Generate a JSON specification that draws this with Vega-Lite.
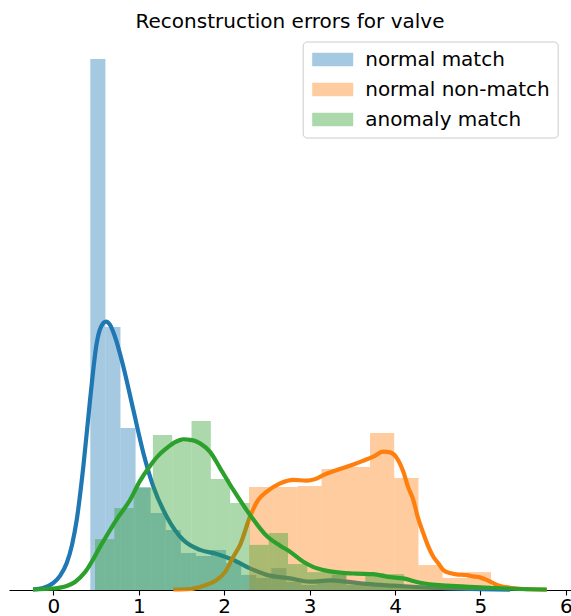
{
  "$schema": "https://vega.github.io/schema/vega-lite/v6.json",
  "autosize": {"type": "none"},
  "width": 562,
  "height": 557,
  "padding": {"left": 9, "top": 33, "right": 0, "bottom": 26},
  "title": {"text": "Reconstruction errors for valve", "fontSize": 20, "font": "DejaVu Sans", "fontWeight": "normal", "color": "#000000", "anchor": "middle", "frame": "group", "baseline": "bottom", "offset": 2, "dy": 21},
  "config": {
    "view": {"stroke": null},
    "font": "DejaVu Sans",
    "axis": {"grid": false},
    "legend": {
      "title": null,
      "orient": "none",
      "legendX": 293.7,
      "legendY": 8.5,
      "symbolType": "M-3,-1H3V1H-3Z",
      "symbolSize": 187,
      "symbolOpacity": 0.4,
      "symbolStrokeWidth": 0,
      "symbolOffset": 12,
      "labelOffset": 22.5,
      "labelFontSize": 20,
      "labelFont": "DejaVu Sans",
      "labelColor": "#000000",
      "labelLimit": 400,
      "padding": 8,
      "rowPadding": 10,
      "fillColor": "rgba(255,255,255,0.8)",
      "strokeColor": "#cccccc",
      "cornerRadius": 4
    }
  },
  "datasets": {
    "hist": [
      {"series": "normal match", "x0": 0.432, "x1": 0.609, "density": 2.107},
      {"series": "normal match", "x0": 0.609, "x1": 0.785, "density": 1.044},
      {"series": "normal match", "x0": 0.785, "x1": 0.962, "density": 0.643},
      {"series": "normal match", "x0": 0.962, "x1": 1.138, "density": 0.409},
      {"series": "normal match", "x0": 1.138, "x1": 1.315, "density": 0.306},
      {"series": "normal match", "x0": 1.315, "x1": 1.492, "density": 0.238},
      {"series": "normal match", "x0": 1.492, "x1": 1.668, "density": 0.147},
      {"series": "normal match", "x0": 1.668, "x1": 1.845, "density": 0.135},
      {"series": "normal match", "x0": 1.845, "x1": 2.021, "density": 0.159},
      {"series": "normal match", "x0": 2.021, "x1": 2.198, "density": 0.107},
      {"series": "normal match", "x0": 2.198, "x1": 2.375, "density": 0.060},
      {"series": "normal match", "x0": 2.375, "x1": 2.551, "density": 0.048},
      {"series": "normal match", "x0": 2.551, "x1": 2.728, "density": 0.087},
      {"series": "normal match", "x0": 2.728, "x1": 2.904, "density": 0.032},
      {"series": "normal match", "x0": 2.904, "x1": 3.081, "density": 0.020},
      {"series": "normal match", "x0": 3.081, "x1": 3.258, "density": 0.032},
      {"series": "normal match", "x0": 3.258, "x1": 3.434, "density": 0.060},
      {"series": "normal match", "x0": 3.434, "x1": 3.611, "density": 0.020},
      {"series": "normal match", "x0": 3.611, "x1": 3.787, "density": 0.024},
      {"series": "normal match", "x0": 3.787, "x1": 3.964, "density": 0.016},
      {"series": "normal match", "x0": 3.964, "x1": 4.141, "density": 0.020},
      {"series": "normal match", "x0": 4.141, "x1": 4.317, "density": 0.008},
      {"series": "normal match", "x0": 4.317, "x1": 4.494, "density": 0.012},
      {"series": "normal match", "x0": 4.494, "x1": 4.670, "density": 0.0},
      {"series": "normal match", "x0": 4.670, "x1": 4.847, "density": 0.008},
      {"series": "normal match", "x0": 4.847, "x1": 5.024, "density": 0.004},
      {"series": "normal non-match", "x0": 2.290, "x1": 2.573, "density": 0.409},
      {"series": "normal non-match", "x0": 2.573, "x1": 2.857, "density": 0.409},
      {"series": "normal non-match", "x0": 2.857, "x1": 3.140, "density": 0.413},
      {"series": "normal non-match", "x0": 3.140, "x1": 3.424, "density": 0.480},
      {"series": "normal non-match", "x0": 3.424, "x1": 3.707, "density": 0.488},
      {"series": "normal non-match", "x0": 3.707, "x1": 3.990, "density": 0.623},
      {"series": "normal non-match", "x0": 3.990, "x1": 4.274, "density": 0.444},
      {"series": "normal non-match", "x0": 4.274, "x1": 4.557, "density": 0.099},
      {"series": "normal non-match", "x0": 4.557, "x1": 4.841, "density": 0.048},
      {"series": "normal non-match", "x0": 4.841, "x1": 5.124, "density": 0.071},
      {"series": "anomaly match", "x0": 0.487, "x1": 0.713, "density": 0.202},
      {"series": "anomaly match", "x0": 0.713, "x1": 0.939, "density": 0.325},
      {"series": "anomaly match", "x0": 0.939, "x1": 1.165, "density": 0.405},
      {"series": "anomaly match", "x0": 1.165, "x1": 1.391, "density": 0.615},
      {"series": "anomaly match", "x0": 1.391, "x1": 1.617, "density": 0.587},
      {"series": "anomaly match", "x0": 1.617, "x1": 1.843, "density": 0.671},
      {"series": "anomaly match", "x0": 1.843, "x1": 2.069, "density": 0.440},
      {"series": "anomaly match", "x0": 2.069, "x1": 2.295, "density": 0.345},
      {"series": "anomaly match", "x0": 2.295, "x1": 2.521, "density": 0.179},
      {"series": "anomaly match", "x0": 2.521, "x1": 2.747, "density": 0.226},
      {"series": "anomaly match", "x0": 2.747, "x1": 2.973, "density": 0.103},
      {"series": "anomaly match", "x0": 2.973, "x1": 3.199, "density": 0.071},
      {"series": "anomaly match", "x0": 3.199, "x1": 3.425, "density": 0.071},
      {"series": "anomaly match", "x0": 3.425, "x1": 3.651, "density": 0.032},
      {"series": "anomaly match", "x0": 3.651, "x1": 3.877, "density": 0.067},
      {"series": "anomaly match", "x0": 3.877, "x1": 4.103, "density": 0.063},
      {"series": "anomaly match", "x0": 4.103, "x1": 4.329, "density": 0.020},
      {"series": "anomaly match", "x0": 4.329, "x1": 4.555, "density": 0.016},
      {"series": "anomaly match", "x0": 4.555, "x1": 4.781, "density": 0.012},
      {"series": "anomaly match", "x0": 4.781, "x1": 5.007, "density": 0.008},
      {"series": "anomaly match", "x0": 5.007, "x1": 5.233, "density": 0.004},
      {"series": "anomaly match", "x0": 5.233, "x1": 5.459, "density": 0.004}
    ],
    "kde": [
      {"series": "normal match", "x": -0.239, "y": 0.002},
      {"series": "normal match", "x": -0.122, "y": 0.008},
      {"series": "normal match", "x": 0.0, "y": 0.028},
      {"series": "normal match", "x": 0.077, "y": 0.056},
      {"series": "normal match", "x": 0.156, "y": 0.107},
      {"series": "normal match", "x": 0.218, "y": 0.179},
      {"series": "normal match", "x": 0.273, "y": 0.278},
      {"series": "normal match", "x": 0.350, "y": 0.489},
      {"series": "normal match", "x": 0.429, "y": 0.754},
      {"series": "normal match", "x": 0.507, "y": 0.980},
      {"series": "normal match", "x": 0.557, "y": 1.044},
      {"series": "normal match", "x": 0.616, "y": 1.065},
      {"series": "normal match", "x": 0.663, "y": 1.052},
      {"series": "normal match", "x": 0.721, "y": 1.005},
      {"series": "normal match", "x": 0.819, "y": 0.886},
      {"series": "normal match", "x": 0.936, "y": 0.714},
      {"series": "normal match", "x": 1.053, "y": 0.544},
      {"series": "normal match", "x": 1.170, "y": 0.410},
      {"series": "normal match", "x": 1.327, "y": 0.291},
      {"series": "normal match", "x": 1.521, "y": 0.198},
      {"series": "normal match", "x": 1.717, "y": 0.159},
      {"series": "normal match", "x": 1.912, "y": 0.143},
      {"series": "normal match", "x": 2.107, "y": 0.119},
      {"series": "normal match", "x": 2.302, "y": 0.086},
      {"series": "normal match", "x": 2.498, "y": 0.060},
      {"series": "normal match", "x": 2.770, "y": 0.046},
      {"series": "normal match", "x": 3.005, "y": 0.033},
      {"series": "normal match", "x": 3.239, "y": 0.038},
      {"series": "normal match", "x": 3.434, "y": 0.033},
      {"series": "normal match", "x": 3.669, "y": 0.024},
      {"series": "normal match", "x": 3.977, "y": 0.017},
      {"series": "normal match", "x": 4.293, "y": 0.011},
      {"series": "normal match", "x": 4.644, "y": 0.006},
      {"series": "normal match", "x": 4.995, "y": 0.003},
      {"series": "normal match", "x": 5.347, "y": 0.001},
      {"series": "normal non-match", "x": 1.404, "y": 0.002},
      {"series": "normal non-match", "x": 1.600, "y": 0.004},
      {"series": "normal non-match", "x": 1.717, "y": 0.012},
      {"series": "normal non-match", "x": 1.834, "y": 0.026},
      {"series": "normal non-match", "x": 1.912, "y": 0.040},
      {"series": "normal non-match", "x": 2.009, "y": 0.071},
      {"series": "normal non-match", "x": 2.107, "y": 0.132},
      {"series": "normal non-match", "x": 2.186, "y": 0.179},
      {"series": "normal non-match", "x": 2.302, "y": 0.291},
      {"series": "normal non-match", "x": 2.396, "y": 0.357},
      {"series": "normal non-match", "x": 2.498, "y": 0.390},
      {"series": "normal non-match", "x": 2.654, "y": 0.423},
      {"series": "normal non-match", "x": 2.809, "y": 0.437},
      {"series": "normal non-match", "x": 2.966, "y": 0.434},
      {"series": "normal non-match", "x": 3.063, "y": 0.440},
      {"series": "normal non-match", "x": 3.160, "y": 0.456},
      {"series": "normal non-match", "x": 3.317, "y": 0.476},
      {"series": "normal non-match", "x": 3.512, "y": 0.498},
      {"series": "normal non-match", "x": 3.649, "y": 0.516},
      {"series": "normal non-match", "x": 3.746, "y": 0.529},
      {"series": "normal non-match", "x": 3.863, "y": 0.549},
      {"series": "normal non-match", "x": 3.941, "y": 0.546},
      {"series": "normal non-match", "x": 4.012, "y": 0.528},
      {"series": "normal non-match", "x": 4.097, "y": 0.469},
      {"series": "normal non-match", "x": 4.152, "y": 0.409},
      {"series": "normal non-match", "x": 4.214, "y": 0.357},
      {"series": "normal non-match", "x": 4.269, "y": 0.286},
      {"series": "normal non-match", "x": 4.331, "y": 0.225},
      {"series": "normal non-match", "x": 4.386, "y": 0.175},
      {"series": "normal non-match", "x": 4.448, "y": 0.132},
      {"series": "normal non-match", "x": 4.504, "y": 0.107},
      {"series": "normal non-match", "x": 4.566, "y": 0.079},
      {"series": "normal non-match", "x": 4.644, "y": 0.067},
      {"series": "normal non-match", "x": 4.722, "y": 0.062},
      {"series": "normal non-match", "x": 4.820, "y": 0.060},
      {"series": "normal non-match", "x": 4.917, "y": 0.054},
      {"series": "normal non-match", "x": 4.995, "y": 0.050},
      {"series": "normal non-match", "x": 5.073, "y": 0.040},
      {"series": "normal non-match", "x": 5.151, "y": 0.027},
      {"series": "normal non-match", "x": 5.229, "y": 0.016},
      {"series": "normal non-match", "x": 5.347, "y": 0.009},
      {"series": "normal non-match", "x": 5.464, "y": 0.005},
      {"series": "normal non-match", "x": 5.581, "y": 0.003},
      {"series": "normal non-match", "x": 5.776, "y": 0.001},
      {"series": "anomaly match", "x": -0.239, "y": 0.002},
      {"series": "anomaly match", "x": 0.0, "y": 0.006},
      {"series": "anomaly match", "x": 0.156, "y": 0.016},
      {"series": "anomaly match", "x": 0.253, "y": 0.032},
      {"series": "anomaly match", "x": 0.370, "y": 0.071},
      {"series": "anomaly match", "x": 0.566, "y": 0.183},
      {"series": "anomaly match", "x": 0.760, "y": 0.290},
      {"series": "anomaly match", "x": 0.897, "y": 0.357},
      {"series": "anomaly match", "x": 1.014, "y": 0.433},
      {"series": "anomaly match", "x": 1.131, "y": 0.492},
      {"series": "anomaly match", "x": 1.225, "y": 0.532},
      {"series": "anomaly match", "x": 1.327, "y": 0.563},
      {"series": "anomaly match", "x": 1.424, "y": 0.587},
      {"series": "anomaly match", "x": 1.521, "y": 0.598},
      {"series": "anomaly match", "x": 1.623, "y": 0.595},
      {"series": "anomaly match", "x": 1.717, "y": 0.582},
      {"series": "anomaly match", "x": 1.834, "y": 0.548},
      {"series": "anomaly match", "x": 1.951, "y": 0.484},
      {"series": "anomaly match", "x": 2.107, "y": 0.397},
      {"series": "anomaly match", "x": 2.302, "y": 0.298},
      {"series": "anomaly match", "x": 2.498, "y": 0.214},
      {"series": "anomaly match", "x": 2.654, "y": 0.176},
      {"series": "anomaly match", "x": 2.770, "y": 0.152},
      {"series": "anomaly match", "x": 2.926, "y": 0.112},
      {"series": "anomaly match", "x": 3.040, "y": 0.092},
      {"series": "anomaly match", "x": 3.192, "y": 0.077},
      {"series": "anomaly match", "x": 3.356, "y": 0.069},
      {"series": "anomaly match", "x": 3.543, "y": 0.065},
      {"series": "anomaly match", "x": 3.742, "y": 0.063},
      {"series": "anomaly match", "x": 3.918, "y": 0.052},
      {"series": "anomaly match", "x": 4.094, "y": 0.046},
      {"series": "anomaly match", "x": 4.293, "y": 0.029},
      {"series": "anomaly match", "x": 4.605, "y": 0.017},
      {"series": "anomaly match", "x": 4.995, "y": 0.011},
      {"series": "anomaly match", "x": 5.382, "y": 0.005},
      {"series": "anomaly match", "x": 5.776, "y": 0.002}
    ]
  },
  "layer": [
    {
      "data": {"name": "hist"},
      "transform": [{"filter": "datum.series === 'normal match'"}],
      "mark": {"type": "bar", "opacity": 0.4, "strokeWidth": 0},
      "encoding": {
        "x": {"field": "x0", "type": "quantitative", "scale": {"domain": [-0.52, 6.06], "nice": false, "zero": false},
              "axis": {"values": [0, 1, 2, 3, 4, 5, 6], "format": "d", "title": null, "domainColor": "#000000", "domainWidth": 1.1, "tickColor": "#000000", "tickWidth": 1.1, "tickSize": 5, "labelFontSize": 20, "labelFont": "DejaVu Sans", "labelColor": "#000000", "labelPadding": 1, "labelFlush": false, "labelBound": false, "labelOverlap": false}},
        "x2": {"field": "x1"},
        "y": {"field": "density", "type": "quantitative", "scale": {"domain": [0, 2.2103], "nice": false}, "axis": null},
        "y2": {"datum": 0},
        "fill": {"field": "series", "type": "nominal",
                 "scale": {"domain": ["normal match", "normal non-match", "anomaly match"], "range": ["#1f77b4", "#ff7f0e", "#2ca02c"]},
                 "legend": {}}
      }
    },
    {
      "data": {"name": "kde"},
      "transform": [{"filter": "datum.series === 'normal match'"}],
      "mark": {"type": "line", "strokeWidth": 4.2, "interpolate": "monotone"},
      "encoding": {
        "x": {"field": "x", "type": "quantitative"},
        "y": {"field": "y", "type": "quantitative"},
        "stroke": {"field": "series", "type": "nominal",
                   "scale": {"domain": ["normal match", "normal non-match", "anomaly match"], "range": ["#1f77b4", "#ff7f0e", "#2ca02c"]},
                   "legend": null}
      }
    },
    {
      "data": {"name": "hist"},
      "transform": [{"filter": "datum.series === 'normal non-match'"}],
      "mark": {"type": "bar", "opacity": 0.4, "strokeWidth": 0},
      "encoding": {
        "x": {"field": "x0", "type": "quantitative"},
        "x2": {"field": "x1"},
        "y": {"field": "density", "type": "quantitative"},
        "y2": {"datum": 0},
        "fill": {"field": "series", "type": "nominal"}
      }
    },
    {
      "data": {"name": "kde"},
      "transform": [{"filter": "datum.series === 'normal non-match'"}],
      "mark": {"type": "line", "strokeWidth": 4.2, "interpolate": "monotone"},
      "encoding": {
        "x": {"field": "x", "type": "quantitative"},
        "y": {"field": "y", "type": "quantitative"},
        "stroke": {"field": "series", "type": "nominal", "legend": null}
      }
    },
    {
      "data": {"name": "hist"},
      "transform": [{"filter": "datum.series === 'anomaly match'"}],
      "mark": {"type": "bar", "opacity": 0.4, "strokeWidth": 0},
      "encoding": {
        "x": {"field": "x0", "type": "quantitative"},
        "x2": {"field": "x1"},
        "y": {"field": "density", "type": "quantitative"},
        "y2": {"datum": 0},
        "fill": {"field": "series", "type": "nominal"}
      }
    },
    {
      "data": {"name": "kde"},
      "transform": [{"filter": "datum.series === 'anomaly match'"}],
      "mark": {"type": "line", "strokeWidth": 4.2, "interpolate": "monotone"},
      "encoding": {
        "x": {"field": "x", "type": "quantitative"},
        "y": {"field": "y", "type": "quantitative"},
        "stroke": {"field": "series", "type": "nominal", "legend": null}
      }
    }
  ]
}
